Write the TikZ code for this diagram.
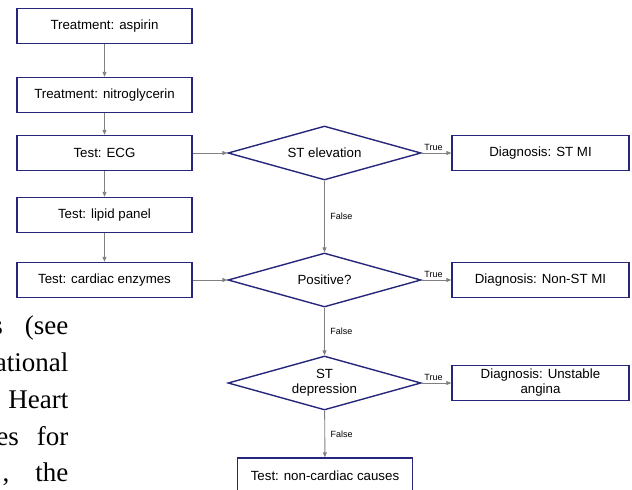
\documentclass[tikz,border=0pt]{standalone}
\usepackage{fontspec}
\setmainfont{Liberation Sans}
\newfontfamily\bodyserif{Liberation Serif}
\usetikzlibrary{shapes.geometric,arrows.meta}
\definecolor{flowblue}{RGB}{38,38,125}
\definecolor{flowgray}{RGB}{128,128,128}

\begin{document}
\begin{tikzpicture}[x=1pt, y=-1pt, font=\fontsize{13.3}{15}\selectfont,
  stepbox/.style={draw=flowblue, line width=1.4pt, minimum width=175pt, minimum height=35pt, inner sep=2pt, align=center},
  dxbox/.style={stepbox, minimum width=177pt},
  choice/.style={diamond, draw=flowblue, line width=1.4pt, minimum width=193pt, minimum height=54pt, inner sep=0pt, aspect=3.6, align=center},
  flow/.style={draw=flowgray, line width=0.9pt, -{Triangle[length=5pt,width=4pt]}},
  tag/.style={font=\fontsize{9}{10}\selectfont, inner sep=1.5pt},
  prose/.style={font=\bodyserif\fontsize{27}{30}\selectfont, anchor=base east, inner sep=0pt}]
  \useasboundingbox (0,0) rectangle (632,490);
  \clip (0,0) rectangle (632,490);

  % left column: treatments and tests
  \node[stepbox] (asp)   at (104.5,26)  {Treatment: aspirin};
  \node[stepbox] (nitro) at (104.5,95)  {Treatment: nitroglycerin};
  \node[stepbox] (ecg)   at (104.5,153) {Test: ECG};
  \node[stepbox] (lipid) at (104.5,215) {Test: lipid panel};
  \node[stepbox] (enz)   at (104.5,280) {Test: cardiac enzymes};

  % decisions
  \node[choice] (elev) at (324.5,153) {ST elevation};
  \node[choice] (pos)  at (324.5,280) {Positive?};
  \node[choice] (dep)  at (324.5,383) {ST\\depression};

  % diagnoses
  \node[dxbox] (stmi)  at (540.5,153) {Diagnosis: ST MI};
  \node[dxbox] (nstmi) at (540.5,280) {Diagnosis: Non-ST MI};
  \node[dxbox] (unst)  at (540.5,383) {Diagnosis: Unstable\\angina};
  \node[stepbox] (noncard) at (325,475.5) {Test: non-cardiac causes};

  % connectors
  \draw[flow] (asp) -- (nitro);
  \draw[flow] (nitro) -- (ecg);
  \draw[flow] (ecg) -- (lipid);
  \draw[flow] (lipid) -- (enz);
  \draw[flow] (ecg) -- (elev);
  \draw[flow] (enz) -- (pos);
  \draw[flow] (elev) -- node[tag, above, pos=0.4] {True} (stmi);
  \draw[flow] (pos) -- node[tag, above, pos=0.4] {True} (nstmi);
  \draw[flow] (dep) -- node[tag, above, pos=0.4] {True} (unst);
  \draw[flow] (elev) -- node[tag, right=4pt] {False} (pos);
  \draw[flow] (pos) -- node[tag, right=4pt] {False} (dep);
  \draw[flow] (dep) -- node[tag, right=4pt] {False} (noncard);

  % page text cut by the picture
  \node[prose] (line1) at (68.5,334) {s\hspace{22pt}(see};
  \node[prose] (line2) at (68.5,371) {ational};
  \node[prose] (line3) at (68.5,408) {Heart};
  \node[prose] (line4) at (68.5,445) {es\hspace{18pt}for};
  \node[prose] (line5) at (68.5,481) {,\hspace{26pt}the};
\end{tikzpicture}
\end{document}
